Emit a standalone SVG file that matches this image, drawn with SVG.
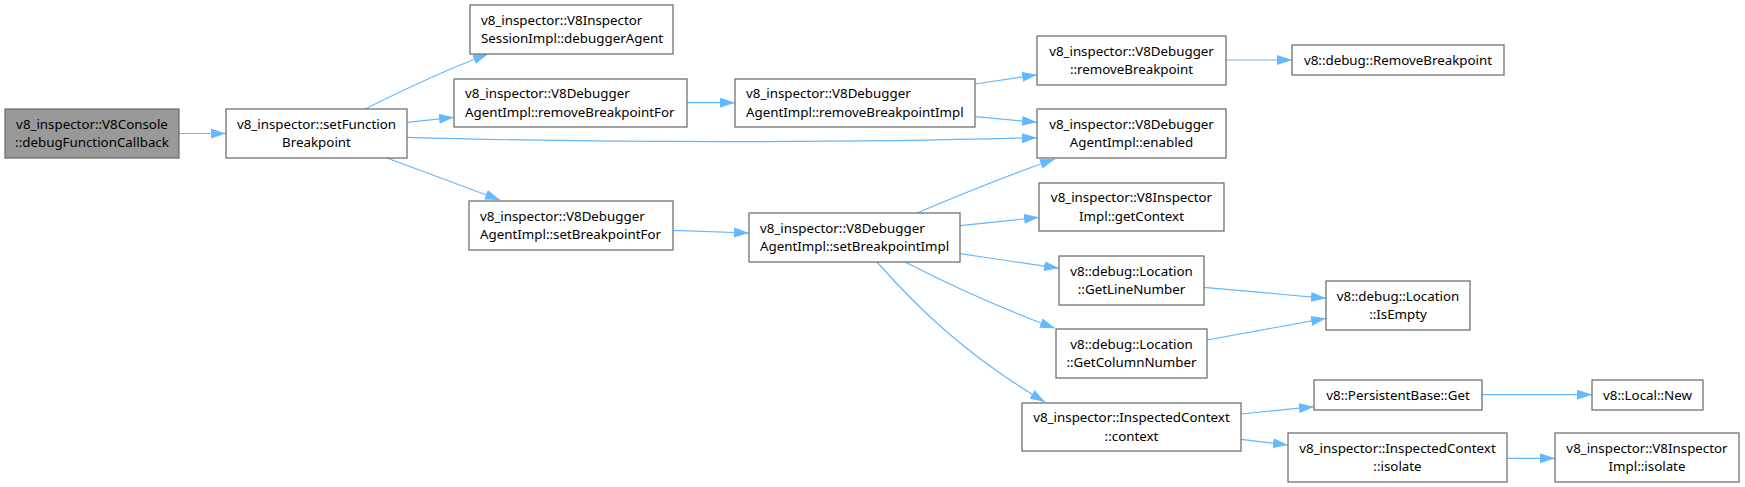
<svg xmlns="http://www.w3.org/2000/svg" width="1745" height="487" viewBox="0 0 1745 487">
<style>
.n rect{fill:#ffffff;stroke:#666666;stroke-width:1.2}
.root rect{fill:#999999}
text{font-family:"Noto Sans","Open Sans","DejaVu Sans",sans-serif;font-size:13.33px;fill:#000000}
.c{text-anchor:middle}
.e path{fill:none;stroke:#63b8ff;stroke-width:1.2;marker-end:url(#ah)}
</style>
<defs>
<marker id="ah" markerUnits="userSpaceOnUse" markerWidth="15" markerHeight="10" refX="15" refY="5" orient="auto">
<path d="M0,0 L15,5 L0,10 z" fill="#63b8ff" stroke="none"/>
</marker>
</defs>
<g id="connectors" class="e">
<path d="M179,133.5 L226,133.5"/>
<path d="M365,109 C395,94 435,74 488,54"/>
<path d="M407,122.3 L454,117.3"/>
<path d="M407,137.3 C600,143 850,143 1037,137.7"/>
<path d="M387,158 L500,200"/>
<path d="M687,102.7 L735,102.7"/>
<path d="M975,84 L1037,74.7"/>
<path d="M975,116.7 L1037,122.3"/>
<path d="M1226,60 L1292,60"/>
<path d="M673,230.3 L749,233"/>
<path d="M917,213 C950,199 1000,178 1055,159"/>
<path d="M960,225.7 L1039,217.3"/>
<path d="M960,253.7 L1059,268.3"/>
<path d="M905,262 C940,280 995,306 1055,328.3"/>
<path d="M877,262 C915,305 965,355 1045,402"/>
<path d="M1204,287.3 L1326,298.3"/>
<path d="M1207,340 L1326,318.3"/>
<path d="M1241,414 L1314,406.7"/>
<path d="M1241,439.3 L1288,445"/>
<path d="M1482,394.7 L1592,394.7"/>
<path d="M1507,458.3 L1555,458.3"/>
</g>
<g id="n1" class="n root"><rect x="5" y="109" width="174" height="49"/><text class="c" x="92" y="128.5">v8_inspector::V8Console</text><text class="c" x="92" y="147">::debugFunctionCallback</text></g>
<g id="n2" class="n"><rect x="226" y="109" width="181" height="49"/><text class="c" x="316.5" y="128.5">v8_inspector::setFunction</text><text class="c" x="316.5" y="147">Breakpoint</text></g>
<g id="n3" class="n"><rect x="470" y="5" width="203" height="49"/><text x="481" y="24.5">v8_inspector::V8Inspector</text><text x="481" y="43">SessionImpl::debuggerAgent</text></g>
<g id="n4" class="n"><rect x="454" y="79" width="233" height="48"/><text x="465" y="98">v8_inspector::V8Debugger</text><text x="465" y="116.5">AgentImpl::removeBreakpointFor</text></g>
<g id="n5" class="n"><rect x="735" y="79" width="240" height="48"/><text x="746" y="98">v8_inspector::V8Debugger</text><text x="746" y="116.5">AgentImpl::removeBreakpointImpl</text></g>
<g id="n6" class="n"><rect x="1037" y="36" width="189" height="49"/><text class="c" x="1131.5" y="55.5">v8_inspector::V8Debugger</text><text class="c" x="1131.5" y="74">::removeBreakpoint</text></g>
<g id="n7" class="n"><rect x="1292" y="45" width="212" height="30"/><text class="c" x="1398" y="64.5">v8::debug::RemoveBreakpoint</text></g>
<g id="n8" class="n"><rect x="1037" y="109" width="189" height="49"/><text class="c" x="1131.5" y="128.5">v8_inspector::V8Debugger</text><text class="c" x="1131.5" y="147">AgentImpl::enabled</text></g>
<g id="n9" class="n"><rect x="469" y="201" width="204" height="49"/><text x="480" y="220.5">v8_inspector::V8Debugger</text><text x="480" y="239">AgentImpl::setBreakpointFor</text></g>
<g id="n10" class="n"><rect x="749" y="213" width="211" height="49"/><text x="760" y="232.5">v8_inspector::V8Debugger</text><text x="760" y="251">AgentImpl::setBreakpointImpl</text></g>
<g id="n11" class="n"><rect x="1039" y="183" width="185" height="48"/><text class="c" x="1131.5" y="202">v8_inspector::V8Inspector</text><text class="c" x="1131.5" y="220.5">Impl::getContext</text></g>
<g id="n12" class="n"><rect x="1059" y="256" width="145" height="49"/><text class="c" x="1131.5" y="275.5">v8::debug::Location</text><text class="c" x="1131.5" y="294">::GetLineNumber</text></g>
<g id="n13" class="n"><rect x="1326" y="281" width="144" height="49"/><text class="c" x="1398" y="300.5">v8::debug::Location</text><text class="c" x="1398" y="319">::IsEmpty</text></g>
<g id="n14" class="n"><rect x="1056" y="329" width="151" height="49"/><text class="c" x="1131.5" y="348.5">v8::debug::Location</text><text class="c" x="1131.5" y="367">::GetColumnNumber</text></g>
<g id="n15" class="n"><rect x="1022" y="403" width="219" height="48"/><text class="c" x="1131.5" y="422">v8_inspector::InspectedContext</text><text class="c" x="1131.5" y="440.5">::context</text></g>
<g id="n16" class="n"><rect x="1314" y="380" width="168" height="30"/><text class="c" x="1398" y="399.5">v8::PersistentBase::Get</text></g>
<g id="n17" class="n"><rect x="1592" y="380" width="111" height="30"/><text class="c" x="1647.5" y="399.5">v8::Local::New</text></g>
<g id="n18" class="n"><rect x="1288" y="433" width="219" height="49"/><text class="c" x="1397.5" y="452.5">v8_inspector::InspectedContext</text><text class="c" x="1397.5" y="471">::isolate</text></g>
<g id="n19" class="n"><rect x="1555" y="433" width="184" height="49"/><text class="c" x="1647" y="452.5">v8_inspector::V8Inspector</text><text class="c" x="1647" y="471">Impl::isolate</text></g>
</svg>
